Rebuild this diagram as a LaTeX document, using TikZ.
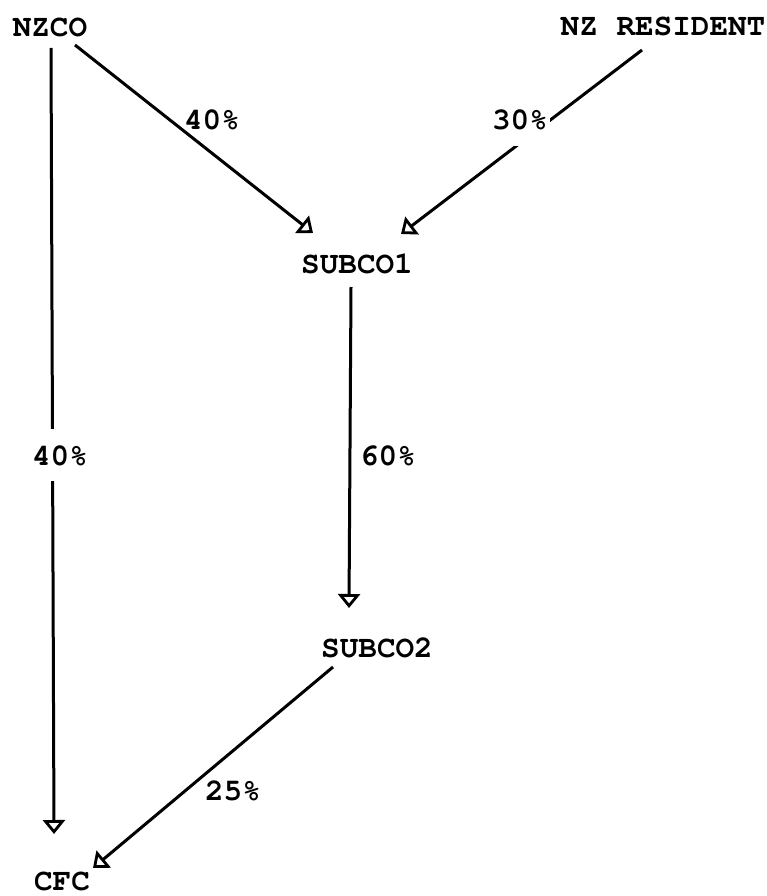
\documentclass[tikz,border=0pt]{standalone}
\usepackage{fontspec}
\newfontfamily\courfont{TeX Gyre Cursor}
\usetikzlibrary{arrows.meta,calc}
\tikzset{
  lbl/.style={font=\courfont\fontsize{31}{35}\selectfont\bfseries, anchor=base, inner sep=0pt},
  pct/.style={font=\courfont\fontsize{31}{35}\selectfont\bfseries, anchor=base, inner sep=0pt},
  gappct/.style={pct, fill=white, inner ysep=16pt, inner xsep=2pt},
  link/.style={line width=3pt, -{Triangle[open, length=14pt, width=22pt, line width=2.8pt]}}
}
\begin{document}
\begin{tikzpicture}[x=1pt, y=-1pt]
\useasboundingbox (0,0) rectangle (766,896);
% entities
\node[lbl] (nzco) at (50,37) {NZCO};
\node[lbl] (nzres) at (663,36) {NZ RESIDENT};
\node[lbl] (sub1) at (357,273) {SUBCO1};
\node[lbl] (sub2) at (377,657) {SUBCO2};
\node[lbl] (cfc) at (62,890) {CFC};
% connectors
\draw[link] ($(nzco.base)+(1,11)$) -- ($(cfc.base)+(-8,-56)$);
\draw[link] ($(nzco.base)+(25,8)$) -- ($(sub1.base)+(-44,-40)$);
\draw[link] ($(nzres.base)+(-21,14)$) -- ($(sub1.base)+(44,-39)$);
\draw[link] ($(sub1.base)+(-6,14)$) -- ($(sub2.base)+(-28,-49)$);
\draw[link] ($(sub2.base)+(-44,10)$) -- ($(cfc.base)+(31,-22)$);
% percentages
\node[pct] (p1) at (212,130) {40\%};
\node[gappct] (p2) at (520,130) {30\%};
\node[gappct] (p3) at (60,465) {40\%};
\node[pct] (p4) at (388,465) {60\%};
\node[pct] (p5) at (233,800) {25\%};
\end{tikzpicture}
\end{document}
